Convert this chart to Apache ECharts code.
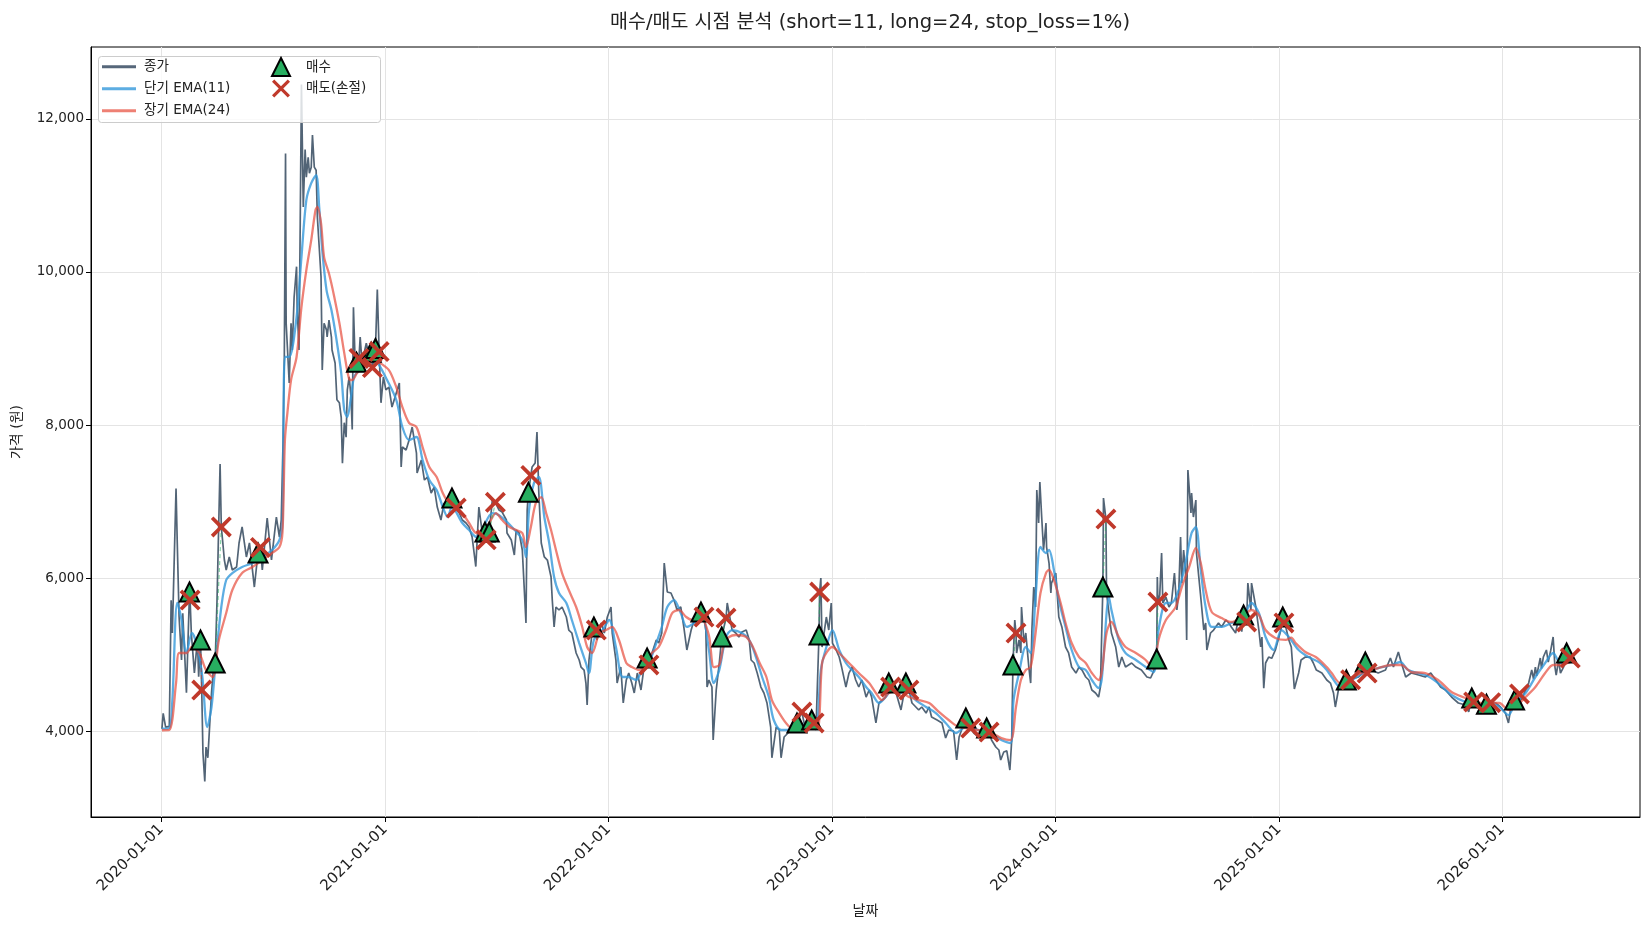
<!DOCTYPE html>
<html><head><meta charset="utf-8">
<script src="https://cdn.jsdelivr.net/npm/echarts@6/dist/echarts.min.js"></script>
<style>html,body{margin:0;padding:0;background:#fff}#c{width:1650px;height:930px}</style>
</head><body><div id="c"></div>
<script>
const titleText = '매수/매도 시점 분석 (short=11, long=24, stop_loss=1%)';
const seriesNames = ['종가', '단기 EMA(11)', '장기 EMA(24)', '매수', '매도(손절)'];
const xTicks = ['2020-01-01','2021-01-01','2022-01-01','2023-01-01','2024-01-01','2025-01-01','2026-01-01'];
const xRange = ['2019-09-08', '2026-08-14'];
const yTicks = [4000, 6000, 8000, 10000, 12000];
const yRange = [2876, 12941];

const closePrices = [
['2020-01-02',4030],['2020-01-04',4230],['2020-01-08',4050],['2020-01-14',4060],['2020-01-17',5710],['2020-01-19',5280],['2020-01-25',7170],['2020-01-27',6460],['2020-01-30',5490],['2020-02-03',4930],['2020-02-05',5540],['2020-02-11',4500],['2020-02-16',5817],['2020-02-17',5712],['2020-02-19',5280],['2020-02-24',4760],['2020-02-29',5190],['2020-03-02',4710],['2020-03-05',5190],['2020-03-07',4536],['2020-03-09',3712],['2020-03-12',3340],['2020-03-14',3790],['2020-03-17',3650],['2020-03-23',4500],['2020-03-26',4800],['2020-03-29',4889],['2020-04-01',5710],['2020-04-06',7490],['2020-04-08',6667],['2020-04-10',6500],['2020-04-13',6235],['2020-04-16',6105],['2020-04-21',6275],['2020-04-26',6105],['2020-05-03',6144],['2020-05-07',6458],['2020-05-12',6667],['2020-05-19',6275],['2020-05-24',6458],['2020-06-01',5882],['2020-06-07',6327],['2020-06-11',6400],['2020-06-14',6105],['2020-06-22',6784],['2020-06-29',6235],['2020-07-07',6797],['2020-07-12',6536],['2020-07-15',6760],['2020-07-18',7800],['2020-07-20',8890],['2020-07-22',11550],['2020-07-23',9330],['2020-07-25',9020],['2020-07-28',8550],['2020-07-31',9330],['2020-08-02',8980],['2020-08-05',9670],['2020-08-09',10070],['2020-08-10',9540],['2020-08-13',8980],['2020-08-15',10640],['2020-08-17',12450],['2020-08-20',10850],['2020-08-23',11600],['2020-08-25',11240],['2020-08-28',11500],['2020-08-30',11290],['2020-09-02',11370],['2020-09-04',11790],['2020-09-07',11370],['2020-09-10',11330],['2020-09-12',10720],['2020-09-15',10330],['2020-09-18',9940],['2020-09-20',8720],['2020-09-23',9330],['2020-09-27',9240],['2020-09-28',9150],['2020-10-01',9370],['2020-10-05',9150],['2020-10-06',8980],['2020-10-11',8810],['2020-10-14',8330],['2020-10-18',8290],['2020-10-21',8100],['2020-10-23',7500],['2020-10-26',8030],['2020-10-29',7840],['2020-10-31',8460],['2020-11-03',8630],['2020-11-06',8370],['2020-11-08',7940],['2020-11-10',9540],['2020-11-13',8760],['2020-11-15',8820],['2020-11-19',8870],['2020-11-21',9150],['2020-11-24',8810],['2020-12-01',9070],['2020-12-06',8890],['2020-12-09',8950],['2020-12-11',8750],['2020-12-16',9000],['2020-12-19',9770],['2020-12-22',8960],['2020-12-25',8290],['2020-12-29',8630],['2021-01-02',8460],
['2021-01-07',8496],['2021-01-12',8235],['2021-01-19',8418],['2021-01-24',8548],['2021-01-27',7451],['2021-01-29',7712],['2021-02-04',7673],['2021-02-09',7803],['2021-02-14',7973],['2021-02-21',7633],['2021-02-22',7372],['2021-03-01',7542],['2021-03-06',7281],['2021-03-11',7320],['2021-03-17',7111],['2021-03-22',7189],['2021-03-27',6928],['2021-04-02',6758],['2021-04-07',6980],['2021-04-15',6928],['2021-04-20',7045],['2021-04-24',7019],['2021-04-27',6915],['2021-05-02',6850],['2021-05-07',6758],['2021-05-13',6719],['2021-05-18',6667],['2021-05-23',6536],['2021-05-29',6150],['2021-06-03',6928],['2021-06-08',6627],['2021-06-13',6600],['2021-06-15',6500],['2021-06-20',6600],['2021-06-25',7019],['2021-06-30',6990],['2021-07-06',6888],['2021-07-11',6862],['2021-07-18',6758],['2021-07-19',6588],['2021-07-26',6497],['2021-07-31',6300],['2021-08-03',6627],['2021-08-08',6588],['2021-08-13',6366],['2021-08-19',5412],['2021-08-21',6888],['2021-08-23',7120],['2021-08-27',7340],['2021-08-29',7450],['2021-09-03',7503],['2021-09-06',7908],['2021-09-09',7111],['2021-09-13',6457],['2021-09-18',6275],['2021-09-23',6235],['2021-09-29',6013],['2021-10-01',5712],['2021-10-04',5360],['2021-10-07',5621],['2021-10-12',5582],['2021-10-17',5621],['2021-10-24',5490],['2021-10-28',5320],['2021-11-02',5281],['2021-11-09',5020],['2021-11-14',4928],['2021-11-17',4836],['2021-11-22',4797],['2021-11-25',4627],['2021-11-27',4340],['2021-11-30',4928],['2021-12-05',5281],['2021-12-08',5360],['2021-12-12',5320],['2021-12-13',5190],['2021-12-20',5412],['2021-12-25',5281],['2021-12-30',5490],
['2022-01-05',5621],['2022-01-07',5281],['2022-01-13',4928],['2022-01-15',4627],['2022-01-21',4836],['2022-01-25',4366],['2022-01-30',4667],['2022-02-03',4758],['2022-02-08',4627],['2022-02-12',4497],['2022-02-17',4758],['2022-02-23',4536],['2022-02-28',4836],['2022-03-05',4954],['2022-03-08',4863],['2022-03-13',5020],['2022-03-20',5190],['2022-03-24',5150],['2022-03-29',5281],['2022-04-02',6196],['2022-04-07',5817],['2022-04-13',5804],['2022-04-18',5712],['2022-04-23',5582],['2022-04-29',5621],['2022-05-04',5360],['2022-05-09',5059],['2022-05-16',5320],['2022-05-21',5451],['2022-05-29',5542],['2022-06-01',5555],['2022-06-06',5490],['2022-06-09',5320],['2022-06-11',4575],['2022-06-14',4667],['2022-06-19',4575],['2022-06-21',3882],['2022-06-26',4536],['2022-07-01',4889],['2022-07-05',5229],['2022-07-12',5477],['2022-07-14',5673],['2022-07-17',5686],['2022-07-22',5320],['2022-07-28',5281],['2022-08-02',5229],['2022-08-07',5294],['2022-08-14',5320],['2022-08-19',5190],['2022-08-22',4928],['2022-08-27',4889],['2022-09-01',4758],['2022-09-07',4575],['2022-09-12',4497],['2022-09-17',4366],['2022-09-23',4052],['2022-09-25',3650],['2022-10-02',4052],['2022-10-07',4013],['2022-10-10',3650],['2022-10-15',3922],['2022-10-23',3987],['2022-10-29',4050],['2022-11-05',4105],['2022-11-13',4248],['2022-11-18',4052],['2022-11-25',4105],['2022-11-29',4144],['2022-12-03',4105],['2022-12-06',4013],['2022-12-11',5255],['2022-12-12',5817],['2022-12-14',6000],['2022-12-16',5098],['2022-12-23',5490],['2022-12-27',5320],['2022-12-31',5673],
['2023-01-02',5150],['2023-01-08',5059],['2023-01-13',4967],['2023-01-17',4836],['2023-01-24',4575],['2023-01-29',4758],['2023-02-03',4836],['2023-02-09',4667],['2023-02-14',4575],['2023-02-19',4667],['2023-02-26',4444],['2023-03-03',4536],['2023-03-07',4444],['2023-03-14',4105],['2023-03-19',4366],['2023-03-30',4444],['2023-04-04',4627],['2023-04-07',4575],['2023-04-16',4497],['2023-04-24',4275],['2023-05-02',4627],['2023-05-07',4536],['2023-05-12',4366],['2023-05-23',4275],['2023-05-28',4314],['2023-06-04',4235],['2023-06-09',4314],['2023-06-13',4183],['2023-06-22',4144],['2023-06-30',4105],['2023-07-06',3908],['2023-07-11',4013],['2023-07-19',4000],['2023-07-24',3621],['2023-07-28',3922],['2023-08-01',4013],['2023-08-08',4170],['2023-08-16',4039],['2023-08-21',3974],['2023-08-29',3922],['2023-09-06',3960],['2023-09-11',4039],['2023-09-15',3987],['2023-09-19',3882],['2023-09-26',3791],['2023-10-01',3752],['2023-10-04',3621],['2023-10-09',3726],['2023-10-14',3740],['2023-10-19',3490],['2023-10-22',3880],['2023-10-24',4863],['2023-10-27',5451],['2023-10-29',5281],['2023-10-30',5020],['2023-11-03',5190],['2023-11-06',5020],['2023-11-07',5621],['2023-11-11',5150],['2023-11-14',5281],['2023-11-19',4836],['2023-11-22',4627],['2023-11-24',5320],['2023-11-27',5882],['2023-11-30',5621],['2023-12-02',7150],['2023-12-05',6719],['2023-12-07',7254],['2023-12-10',6797],['2023-12-13',6366],['2023-12-17',6719],['2023-12-18',6405],['2023-12-22',6196],['2023-12-25',5804],['2023-12-26',5934],
['2024-01-02',6065],['2024-01-07',5490],['2024-01-12',5360],['2024-01-18',5098],['2024-01-23',5020],['2024-01-28',4836],['2024-02-04',4758],['2024-02-09',4836],['2024-02-14',4797],['2024-02-20',4706],['2024-02-25',4667],['2024-03-01',4536],['2024-03-07',4497],['2024-03-12',4444],['2024-03-15',4575],['2024-03-19',5882],['2024-03-20',7045],['2024-03-24',6771],['2024-03-25',5804],['2024-03-29',5542],['2024-04-02',5281],['2024-04-09',5098],['2024-04-14',4836],['2024-04-19',4967],['2024-04-25',4836],['2024-05-05',4889],['2024-05-12',4836],['2024-05-21',4797],['2024-05-30',4706],['2024-06-05',4693],['2024-06-10',4780],['2024-06-15',4941],['2024-06-16',6013],['2024-06-17',5686],['2024-06-20',5780],['2024-06-23',6327],['2024-06-25',5673],['2024-06-30',5751],['2024-07-05',5621],['2024-07-09',5673],['2024-07-14',6065],['2024-07-18',5582],['2024-07-21',5804],['2024-07-24',6536],['2024-07-26',5934],['2024-07-29',6366],['2024-08-01',6105],['2024-08-03',5190],['2024-08-05',7411],['2024-08-10',6849],['2024-08-11',7111],['2024-08-14',6797],['2024-08-18',7019],['2024-08-19',6327],['2024-08-26',5751],['2024-08-31',5320],['2024-09-03',5412],['2024-09-05',5059],['2024-09-11',5281],['2024-09-16',5320],['2024-09-24',5412],['2024-09-29',5360],['2024-10-06',5451],['2024-10-11',5412],['2024-10-15',5360],['2024-10-22',5281],['2024-10-27',5490],['2024-11-01',5300],['2024-11-04',5516],['2024-11-09',5425],['2024-11-11',5934],['2024-11-16',5582],['2024-11-17',5934],['2024-11-24',5621],['2024-11-29',5320],['2024-12-02',5098],['2024-12-04',5229],['2024-12-07',4560],['2024-12-10',4889],['2024-12-15',4967],['2024-12-20',4950],['2024-12-26',5059],
['2025-01-04',5320],['2025-01-07',5490],['2025-01-09',5412],['2025-01-12',5360],['2025-01-17',5190],['2025-01-21',5098],['2025-01-26',4550],['2025-02-02',4758],['2025-02-06',4928],['2025-02-13',4967],['2025-02-21',4967],['2025-02-26',4889],['2025-03-03',4797],['2025-03-12',4758],['2025-03-20',4667],['2025-03-26',4627],['2025-03-31',4497],['2025-04-03',4314],['2025-04-08',4536],['2025-04-15',4600],['2025-04-21',4667],['2025-04-28',4670],['2025-05-04',4690],['2025-05-11',4706],['2025-05-18',4760],['2025-05-22',4902],['2025-05-25',4758],['2025-06-01',4797],['2025-06-12',4758],['2025-06-24',4797],['2025-07-02',4954],['2025-07-07',4836],['2025-07-15',5033],['2025-07-20',4889],['2025-07-27',4706],['2025-08-05',4758],['2025-08-17',4732],['2025-08-28',4706],['2025-09-06',4758],['2025-09-14',4667],['2025-09-22',4575],['2025-09-30',4536],['2025-10-10',4444],['2025-10-21',4366],['2025-11-02',4340],['2025-11-07',4250],['2025-11-12',4431],['2025-11-15',4380],['2025-11-23',4300],['2025-11-28',4250],['2025-12-06',4350],['2025-12-13',4370],['2025-12-21',4366],['2025-12-29',4314],
['2026-01-06',4235],['2026-01-11',4105],['2026-01-16',4366],['2026-01-21',4405],['2026-01-29',4484],['2026-02-01',4405],['2026-02-08',4536],['2026-02-13',4627],['2026-02-18',4797],['2026-02-21',4680],['2026-02-24',4836],['2026-02-26',4720],['2026-03-04',4954],['2026-03-06',4820],['2026-03-09',4967],['2026-03-14',5059],['2026-03-17',4902],['2026-03-21',5050],['2026-03-25',5229],['2026-03-28',4836],['2026-03-30',4732],['2026-04-03',4928],['2026-04-06',4758],['2026-04-11',4836],['2026-04-16',5020],['2026-04-22',4954]
];

const emaShort = [
['2020-01-02',4030],['2020-01-14',4040],['2020-01-19',4405],['2020-01-27',5673],['2020-02-03',5451],['2020-02-11',5020],['2020-02-20',5281],['2020-02-29',5098],['2020-03-08',4706],['2020-03-16',4052],['2020-03-23',4314],['2020-03-30',4928],['2020-04-08',5621],['2020-04-16',5974],['2020-04-26',6065],['2020-05-12',6144],['2020-05-29',6196],['2020-06-14',6275],['2020-06-30',6366],['2020-07-12',6497],['2020-07-17',6719],['2020-07-21',8890],['2020-07-28',8890],['2020-08-09',9411],['2020-08-17',10195],['2020-08-25',10940],['2020-09-02',11162],['2020-09-10',11267],['2020-09-15',10849],['2020-09-20',10287],['2020-09-27',9764],['2020-10-05',9503],['2020-10-13',9130],['2020-10-21',8679],['2020-10-26',8195],['2020-10-31',8104],['2020-11-06',8366],['2020-11-11',8627],['2020-11-19',8718],['2020-11-24',8810],['2020-12-11',8888],['2020-12-22',8784],
['2021-01-04',8588],['2021-01-19',8327],['2021-01-29',7973],['2021-02-09',7803],['2021-02-21',7843],['2021-03-03',7542],['2021-03-14',7281],['2021-03-26',7150],['2021-04-05',6928],['2021-04-13',6797],['2021-04-20',6928],['2021-05-07',6719],['2021-05-18',6627],['2021-05-30',6536],['2021-06-08',6627],['2021-06-25',6849],['2021-07-06',6820],['2021-07-27',6667],['2021-08-13',6497],['2021-08-19',6275],['2021-08-24',6888],['2021-09-01',7241],['2021-09-09',7320],['2021-09-18',6797],['2021-09-26',6457],['2021-10-04',6013],['2021-10-12',5804],['2021-10-24',5673],['2021-11-02',5451],['2021-11-14',5150],['2021-11-25',4889],['2021-11-30',4758],['2021-12-08',5190],['2021-12-22',5320],
['2022-01-02',5451],['2022-01-13',5098],['2022-01-24',4706],['2022-02-03',4706],['2022-02-15',4667],['2022-02-25',4797],['2022-03-08',4889],['2022-03-20',5150],['2022-03-29',5360],['2022-04-07',5621],['2022-04-18',5712],['2022-04-29',5542],['2022-05-09',5360],['2022-05-21',5412],['2022-06-03',5490],['2022-06-14',5059],['2022-06-22',4627],['2022-07-01',4797],['2022-07-12',5229],['2022-07-22',5320],['2022-08-07',5281],['2022-08-19',5190],['2022-08-30',4967],['2022-09-09',4706],['2022-09-20',4444],['2022-09-28',4144],['2022-10-10',4013],['2022-10-23',4013],['2022-11-08',4052],['2022-11-25',4105],['2022-12-06',4052],['2022-12-14',4797],['2022-12-23',5098],
['2023-01-02',5320],['2023-01-13',5059],['2023-01-24',4889],['2023-02-03',4797],['2023-02-14',4706],['2023-02-26',4575],['2023-03-07',4497],['2023-03-19',4366],['2023-03-30',4444],['2023-04-09',4536],['2023-04-21',4497],['2023-05-02',4536],['2023-05-18',4405],['2023-06-04',4314],['2023-06-20',4235],['2023-07-06',4105],['2023-07-23',3974],['2023-08-08',4052],['2023-08-29',4013],['2023-09-19',3974],['2023-10-05',3882],['2023-10-20',3843],['2023-10-25',4405],['2023-11-03',4758],['2023-11-14',5098],['2023-11-22',5020],['2023-11-30',5751],['2023-12-08',6405],['2023-12-17',6327],['2023-12-22',6366],['2023-12-30',6105],
['2024-01-07',5712],['2024-01-18',5360],['2024-01-28',5059],['2024-02-09',4836],['2024-02-20',4797],['2024-03-01',4667],['2024-03-12',4562],['2024-03-17',4667],['2024-03-29',5751],['2024-04-02',5582],['2024-04-14',5190],['2024-04-25',5020],['2024-05-12',4928],['2024-05-28',4836],['2024-06-10',4770],['2024-06-18',5320],['2024-06-30',5673],['2024-07-09',5673],['2024-07-21',5843],['2024-08-01',6196],['2024-08-11',6588],['2024-08-18',6667],['2024-08-26',6105],['2024-09-03',5621],['2024-09-13',5360],['2024-09-29',5360],['2024-10-15',5412],['2024-11-01',5451],['2024-11-17',5673],['2024-11-29',5542],['2024-12-10',5229],['2024-12-23',5059],
['2025-01-05',5320],['2025-01-17',5229],['2025-02-02',5059],['2025-02-18',4967],['2025-03-07',4900],['2025-03-20',4797],['2025-03-28',4706],['2025-04-11',4575],['2025-04-30',4667],['2025-05-22',4771],['2025-06-12',4823],['2025-07-04',4863],['2025-07-18',4902],['2025-07-31',4797],['2025-08-28',4732],['2025-09-18',4627],['2025-10-10',4470],['2025-11-02',4379],['2025-11-23',4340],['2025-12-14',4366],['2025-12-27',4314],
['2026-01-11',4209],['2026-01-22',4366],['2026-02-08',4497],['2026-02-24',4706],['2026-03-12',4889],['2026-03-25',5020],['2026-04-06',4889],['2026-04-22',4900]
];

const emaLong = [
['2020-01-02',4010],['2020-01-14',4013],['2020-01-25',4627],['2020-01-30',5020],['2020-02-11',5020],['2020-02-20',5098],['2020-03-03',5020],['2020-03-14',4797],['2020-03-25',4706],['2020-04-04',5190],['2020-04-16',5542],['2020-04-26',5843],['2020-05-12',6065],['2020-05-29',6144],['2020-06-14',6235],['2020-06-30',6327],['2020-07-12',6405],['2020-07-17',6600],['2020-07-21',7803],['2020-07-25',8156],['2020-07-31',8588],['2020-08-09',8889],['2020-08-17',9542],['2020-08-25',10025],['2020-09-02',10417],['2020-09-09',10810],['2020-09-12',10850],['2020-09-18',10640],['2020-09-23',10195],['2020-10-01',9980],['2020-10-09',9700],['2020-10-18',9333],['2020-10-26',8940],['2020-11-03',8600],['2020-11-08',8588],['2020-11-16',8679],['2020-12-01',8780],['2020-12-17',8880],['2020-12-22',8823],
['2021-01-07',8718],['2021-01-19',8496],['2021-01-29',8235],['2021-02-09',8026],['2021-02-21',7973],['2021-03-03',7712],['2021-03-14',7451],['2021-03-26',7320],['2021-04-05',7111],['2021-04-15',6980],['2021-04-27',6928],['2021-05-07',6849],['2021-05-18',6719],['2021-05-30',6588],['2021-06-08',6588],['2021-06-20',6719],['2021-07-01',6849],['2021-07-11',6758],['2021-07-23',6667],['2021-08-03',6627],['2021-08-13',6588],['2021-08-19',6405],['2021-08-27',6667],['2021-09-04',6980],['2021-09-13',7058],['2021-09-21',6849],['2021-09-29',6627],['2021-10-07',6366],['2021-10-17',6065],['2021-10-28',5843],['2021-11-09',5621],['2021-11-19',5360],['2021-11-27',5098],['2021-12-05',5020],['2021-12-17',5281],['2021-12-28',5320],
['2022-01-07',5360],['2022-01-18',5190],['2022-01-30',4889],['2022-02-08',4836],['2022-02-20',4797],['2022-03-03',4889],['2022-03-13',5020],['2022-03-24',5098],['2022-04-05',5320],['2022-04-15',5542],['2022-04-26',5582],['2022-05-08',5490],['2022-05-18',5451],['2022-06-01',5477],['2022-06-14',5250],['2022-06-22',4836],['2022-07-01',4863],['2022-07-09',5150],['2022-07-17',5229],['2022-07-28',5255],['2022-08-14',5229],['2022-08-25',5098],['2022-09-05',4889],['2022-09-16',4706],['2022-09-25',4405],['2022-10-07',4235],['2022-10-18',4105],['2022-10-28',4039],['2022-11-20',4052],['2022-12-06',4052],['2022-12-11',4105],['2022-12-16',4889],['2022-12-24',5033],
['2023-01-02',5098],['2023-01-13',5020],['2023-01-29',4889],['2023-02-14',4758],['2023-03-03',4627],['2023-03-14',4497],['2023-03-24',4405],['2023-04-04',4497],['2023-04-21',4536],['2023-05-07',4444],['2023-05-23',4405],['2023-06-09',4366],['2023-06-25',4249],['2023-07-11',4144],['2023-07-28',4052],['2023-08-29',4013],['2023-09-19',3974],['2023-10-05',3908],['2023-10-20',3882],['2023-10-29',4314],['2023-11-06',4667],['2023-11-14',4797],['2023-11-22',4836],['2023-11-30',5281],['2023-12-08',5804],['2023-12-17',6065],['2023-12-22',6105],['2023-12-30',5974],
['2024-01-10',5673],['2024-01-18',5412],['2024-01-28',5150],['2024-02-09',4967],['2024-02-20',4889],['2024-03-01',4758],['2024-03-12',4667],['2024-03-17',4758],['2024-03-25',5281],['2024-04-02',5425],['2024-04-14',5229],['2024-04-25',5098],['2024-05-12',5020],['2024-05-28',4928],['2024-06-09',4815],['2024-06-18',5190],['2024-06-30',5451],['2024-07-16',5621],['2024-07-26',5882],['2024-08-07',6144],['2024-08-18',6392],['2024-08-26',6196],['2024-09-03',5843],['2024-09-13',5555],['2024-09-29',5477],['2024-10-15',5425],['2024-11-01',5490],['2024-11-17',5582],['2024-11-29',5516],['2024-12-10',5320],['2024-12-26',5216],
['2025-01-12',5190],['2025-01-21',5220],['2025-01-28',5150],['2025-02-13',5033],['2025-03-02',4967],['2025-03-20',4836],['2025-03-28',4758],['2025-04-11',4627],['2025-04-30',4706],['2025-05-22',4771],['2025-06-12',4823],['2025-07-04',4863],['2025-07-20',4863],['2025-08-05',4771],['2025-08-28',4758],['2025-09-18',4667],['2025-10-10',4510],['2025-11-02',4431],['2025-11-23',4366],['2025-12-14',4366],['2025-12-27',4366],
['2026-01-11',4275],['2026-01-22',4314],['2026-02-08',4444],['2026-02-24',4575],['2026-03-12',4758],['2026-03-25',4863],['2026-04-06',4863],['2026-04-22',4902]
];

const buyPoints = [
['2020-02-16',5817],['2020-03-05',5190],['2020-03-29',4889],['2020-06-07',6327],['2020-11-15',8820],['2020-12-09',8950],['2020-12-16',9000],
['2021-04-20',7045],['2021-06-13',6600],['2021-06-20',6600],['2021-08-23',7120],['2021-12-08',5360],
['2022-03-05',4954],['2022-06-01',5555],['2022-07-05',5229],['2022-11-05',4105],['2022-11-29',4144],['2022-12-11',5255],
['2023-04-04',4627],['2023-05-02',4627],['2023-08-08',4170],['2023-09-11',4039],['2023-10-24',4863],
['2024-03-19',5882],['2024-06-15',4941],['2024-11-04',5516],
['2025-01-07',5490],['2025-04-21',4667],['2025-05-22',4902],['2025-11-12',4431],['2025-12-06',4350],
['2026-01-21',4405],['2026-04-16',5020]
];
const sellPoints = [
['2020-02-17',5712],['2020-03-07',4536],['2020-04-08',6667],['2020-06-11',6400],['2020-11-19',8870],['2020-12-11',8750],['2020-12-22',8960],
['2021-04-27',6915],['2021-06-15',6500],['2021-06-30',6990],['2021-08-27',7340],['2021-12-12',5320],
['2022-03-08',4863],['2022-06-06',5490],['2022-07-12',5477],['2022-11-13',4248],['2022-12-03',4105],['2022-12-12',5817],
['2023-04-07',4575],['2023-05-07',4536],['2023-08-16',4039],['2023-09-15',3987],['2023-10-29',5281],
['2024-03-24',6771],['2024-06-17',5686],['2024-11-09',5425],
['2025-01-09',5412],['2025-04-28',4670],['2025-05-25',4758],['2025-11-15',4380],['2025-12-13',4370],
['2026-01-29',4484],['2026-04-22',4954]
];

const FONT = '"DejaVu Sans", "Noto Sans CJK KR", sans-serif';
const X_PATH = 'path://M0,2.5L2.5,0L10,7.5L17.5,0L20,2.5L12.5,10L20,17.5L17.5,20L10,12.5L2.5,20L0,17.5L7.5,10Z';
const LINE_ICON = 'path://M0,0L30,0L30,2.6L0,2.6Z';
function ts(s) { const p = s.split('-').map(Number); return new Date(p[0], p[1] - 1, p[2]).getTime(); }
function fmtDate(v) {
  const d = new Date(v);
  const p = n => String(n).padStart(2, '0');
  return d.getFullYear() + '-' + p(d.getMonth() + 1) + '-' + p(d.getDate());
}
const toXY = arr => arr.map(d => [ts(d[0]), d[1]]);

// trade connection segments built from buy/sell pairs
const profitSegs = [], lossSegs = [];
buyPoints.forEach((b, i) => {
  const s = sellPoints[i];
  if (!s) return;
  const target = s[1] >= b[1] ? profitSegs : lossSegs;
  target.push([ts(b[0]), b[1]], [ts(s[0]), s[1]], [ts(s[0]), null]);
});

const chart = echarts.init(document.getElementById('c'), null, {renderer: 'canvas'});
chart.setOption({
  animation: false,
  backgroundColor: '#ffffff',
  textStyle: {fontFamily: FONT},
  title: {
    text: titleText, left: 865, top: 8, textAlign: 'center',
    textStyle: {fontFamily: FONT, fontSize: 19.5, fontWeight: 'normal', color: '#222'}
  },
  grid: {left: 91, right: 10, top: 47, bottom: 113, show: true, borderColor: '#000', borderWidth: 1, containLabel: false, outerBoundsMode: 'none'},
  graphic: [{
    type: 'rect', left: 98, top: 56, z: 50,
    shape: {width: 282, height: 66, r: 3},
    style: {fill: 'rgba(255,255,255,0.8)', stroke: '#cccccc', lineWidth: 1}
  }],
  legend: [{
    data: seriesNames.slice(0, 3).map(n => ({name: n, icon: LINE_ICON})), orient: 'vertical', left: 102, top: 60, z: 60,
    padding: 0, itemWidth: 34, itemHeight: 12, itemGap: 8.5,
    textStyle: {fontFamily: FONT, fontSize: 13.5, color: '#222', padding: [0, 0, 0, 3]}
  }, {
    data: [{name: seriesNames[3], icon: 'triangle'}, {name: seriesNames[4], icon: X_PATH}],
    orient: 'vertical', left: 271, top: 57, z: 60,
    padding: 0, itemWidth: 18, itemHeight: 18, itemGap: 2.5,
    textStyle: {fontFamily: FONT, fontSize: 13.5, color: '#222', padding: [0, 0, 0, 11]}
  }],
  xAxis: {
    type: 'value', min: ts(xRange[0]), max: ts(xRange[1]),
    name: '날짜', nameLocation: 'middle', nameGap: 87,
    nameTextStyle: {fontFamily: FONT, fontSize: 14, color: '#222'},
    axisLine: {show: true, onZero: false, lineStyle: {color: '#000', width: 1}},
    axisTick: {show: true, length: 5, inside: false, customValues: xTicks.map(ts), lineStyle: {color: '#000'}},
    axisLabel: {customValues: xTicks.map(ts), rotate: 45, margin: 10, fontFamily: FONT, fontSize: 15, color: '#222', formatter: v => fmtDate(v)},
    splitLine: {show: true, lineStyle: {color: '#e4e4e4', width: 1}}
  },
  yAxis: {
    type: 'value', min: yRange[0], max: yRange[1],
    name: '가격 (원)', nameLocation: 'middle', nameGap: 67, nameRotate: 90,
    nameTextStyle: {fontFamily: FONT, fontSize: 14, color: '#222'},
    axisLine: {show: true, onZero: false, lineStyle: {color: '#000', width: 1}},
    axisTick: {show: true, length: 5, inside: false, customValues: yTicks, lineStyle: {color: '#000'}},
    axisLabel: {customValues: yTicks, margin: 7, fontFamily: FONT, fontSize: 13.5, color: '#222', formatter: v => Number(v).toLocaleString('en-US')},
    splitLine: {show: true, lineStyle: {color: '#e4e4e4', width: 1}}
  },
  series: [
    {name: seriesNames[0], type: 'line', data: toXY(closePrices), showSymbol: false, symbol: 'none', z: 2,
     lineStyle: {color: '#34495e', width: 1.7, opacity: 0.85}, itemStyle: {color: '#56677a'}},
    {name: seriesNames[1], type: 'line', data: toXY(emaShort), showSymbol: false, symbol: 'none', smooth: 0.3, z: 3,
     lineStyle: {color: '#3498db', width: 2.3, opacity: 0.8}, itemStyle: {color: '#5dade2'}},
    {name: seriesNames[2], type: 'line', data: toXY(emaLong), showSymbol: false, symbol: 'none', smooth: 0.3, z: 3,
     lineStyle: {color: '#e74c3c', width: 2.3, opacity: 0.7}, itemStyle: {color: '#ee8074'}},
    {name: 'profitTrades', type: 'line', data: profitSegs, showSymbol: false, symbol: 'none', connectNulls: false, z: 4,
     lineStyle: {color: '#27ae60', width: 1.2, type: [4, 3], opacity: 0.55}},
    {name: 'lossTrades', type: 'line', data: lossSegs, showSymbol: false, symbol: 'none', connectNulls: false, z: 4,
     lineStyle: {color: '#c0392b', width: 1.2, type: [4, 3], opacity: 0.55}},
    {name: seriesNames[3], type: 'scatter', data: toXY(buyPoints), symbol: 'triangle', symbolSize: 19, z: 6,
     itemStyle: {color: '#27ae60', borderColor: '#000', borderWidth: 2, opacity: 1}},
    {name: seriesNames[4], type: 'scatter', data: toXY(sellPoints), symbol: X_PATH, symbolSize: 21, z: 7,
     itemStyle: {color: '#c0392b', opacity: 1}}
  ]
});
</script>
</body></html>
